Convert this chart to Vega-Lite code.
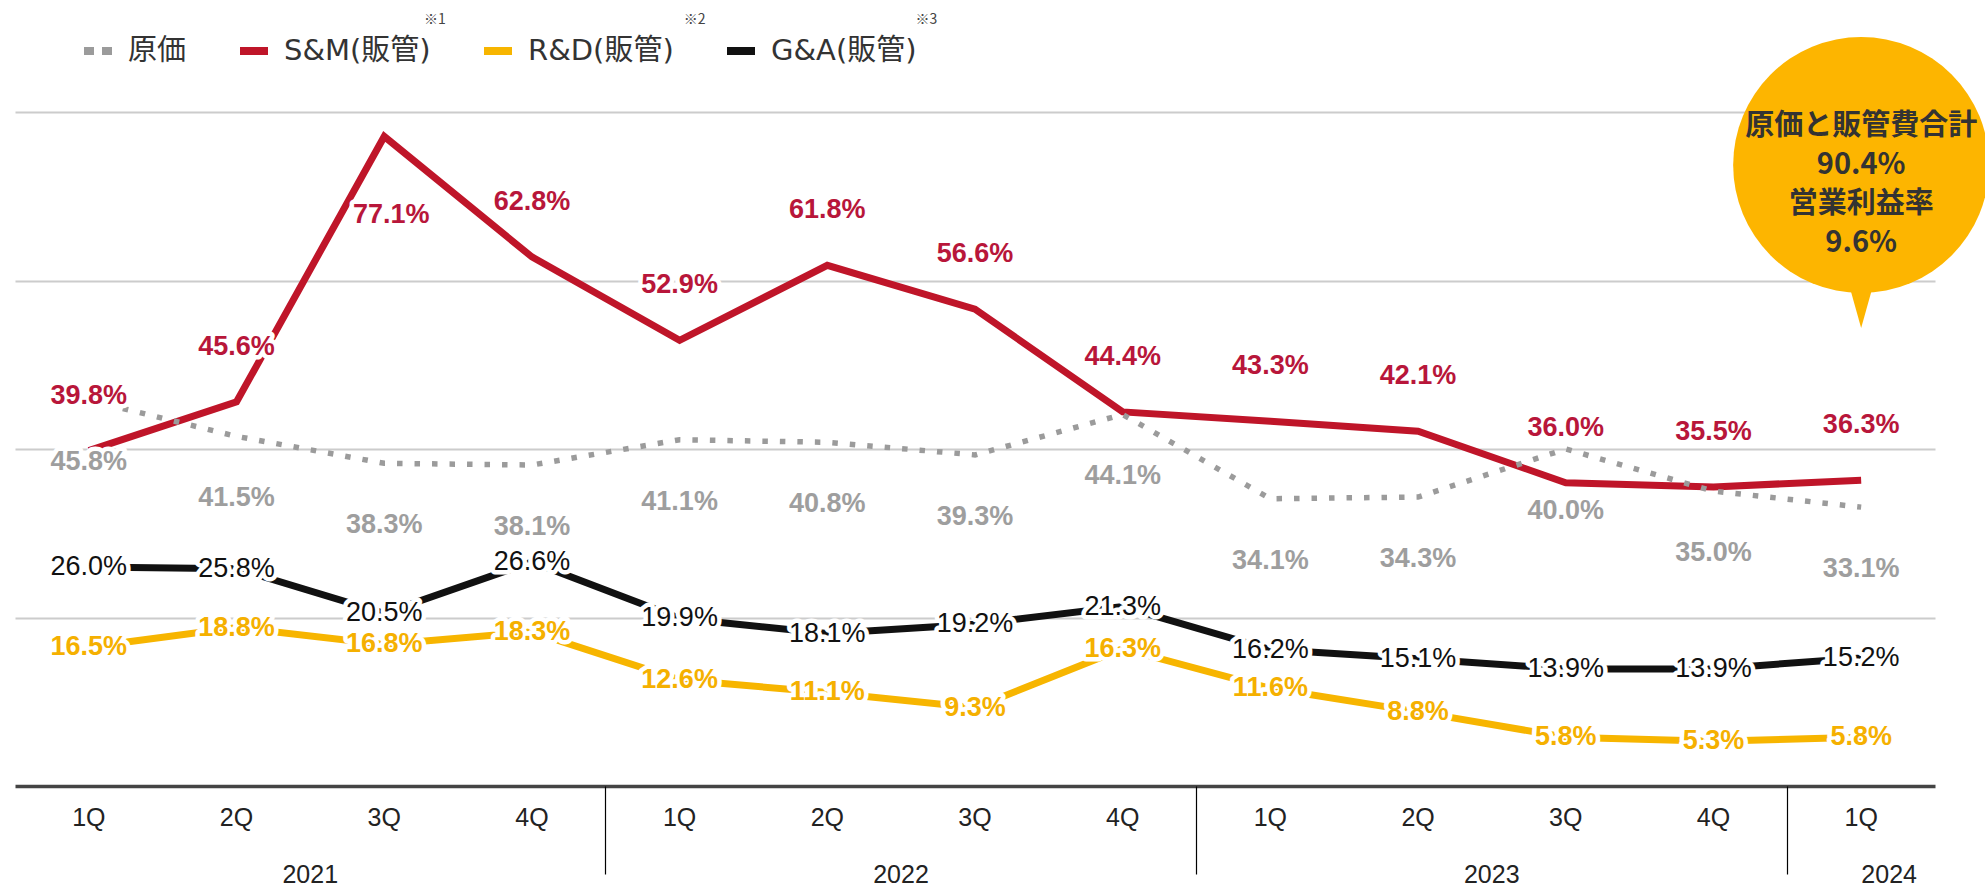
{
  "$schema": "https://vega.github.io/schema/vega-lite/v6.json",
  "width": 1920,
  "height": 674,
  "autosize": {"type": "none"},
  "padding": {"left": 15, "top": 112, "right": 50, "bottom": 108},
  "background": "white",
  "config": {"view": {"stroke": null}, "font": "Liberation Sans"},
  "title": {
    "text": "※1\u2003\u2003\u2003\u2003\u2003\u2003\u2003\u2003\u2003\u2003\u2003\u2003\u2003\u2003\u2003\u2003\u2003※2\u2003\u2003\u2003\u2003\u2003\u2003\u2003\u2003\u2003\u2003\u2003\u2003\u2003\u2003\u2003※3",
    "anchor": "start",
    "frame": "group",
    "dx": 409,
    "offset": 6,
    "font": "Noto Sans CJK JP",
    "fontSize": 14,
    "fontWeight": "normal",
    "color": "#444444"
  },
  "datasets": {
    "d": [
      {"q": "2021-1Q", "s": "原価", "v": 0.458},
      {"q": "2021-2Q", "s": "原価", "v": 0.415},
      {"q": "2021-3Q", "s": "原価", "v": 0.383},
      {"q": "2021-4Q", "s": "原価", "v": 0.381},
      {"q": "2022-1Q", "s": "原価", "v": 0.411},
      {"q": "2022-2Q", "s": "原価", "v": 0.408},
      {"q": "2022-3Q", "s": "原価", "v": 0.393},
      {"q": "2022-4Q", "s": "原価", "v": 0.441},
      {"q": "2023-1Q", "s": "原価", "v": 0.341},
      {"q": "2023-2Q", "s": "原価", "v": 0.343},
      {"q": "2023-3Q", "s": "原価", "v": 0.400},
      {"q": "2023-4Q", "s": "原価", "v": 0.350},
      {"q": "2024-1Q", "s": "原価", "v": 0.331},
      {"q": "2021-1Q", "s": "S&M(販管)", "v": 0.398},
      {"q": "2021-2Q", "s": "S&M(販管)", "v": 0.456},
      {"q": "2021-3Q", "s": "S&M(販管)", "v": 0.771},
      {"q": "2021-4Q", "s": "S&M(販管)", "v": 0.628},
      {"q": "2022-1Q", "s": "S&M(販管)", "v": 0.529},
      {"q": "2022-2Q", "s": "S&M(販管)", "v": 0.618},
      {"q": "2022-3Q", "s": "S&M(販管)", "v": 0.566},
      {"q": "2022-4Q", "s": "S&M(販管)", "v": 0.444},
      {"q": "2023-1Q", "s": "S&M(販管)", "v": 0.433},
      {"q": "2023-2Q", "s": "S&M(販管)", "v": 0.421},
      {"q": "2023-3Q", "s": "S&M(販管)", "v": 0.360},
      {"q": "2023-4Q", "s": "S&M(販管)", "v": 0.355},
      {"q": "2024-1Q", "s": "S&M(販管)", "v": 0.363},
      {"q": "2021-1Q", "s": "R&D(販管)", "v": 0.165},
      {"q": "2021-2Q", "s": "R&D(販管)", "v": 0.188},
      {"q": "2021-3Q", "s": "R&D(販管)", "v": 0.168},
      {"q": "2021-4Q", "s": "R&D(販管)", "v": 0.183},
      {"q": "2022-1Q", "s": "R&D(販管)", "v": 0.126},
      {"q": "2022-2Q", "s": "R&D(販管)", "v": 0.111},
      {"q": "2022-3Q", "s": "R&D(販管)", "v": 0.093},
      {"q": "2022-4Q", "s": "R&D(販管)", "v": 0.163},
      {"q": "2023-1Q", "s": "R&D(販管)", "v": 0.116},
      {"q": "2023-2Q", "s": "R&D(販管)", "v": 0.088},
      {"q": "2023-3Q", "s": "R&D(販管)", "v": 0.058},
      {"q": "2023-4Q", "s": "R&D(販管)", "v": 0.053},
      {"q": "2024-1Q", "s": "R&D(販管)", "v": 0.058},
      {"q": "2021-1Q", "s": "G&A(販管)", "v": 0.260},
      {"q": "2021-2Q", "s": "G&A(販管)", "v": 0.258},
      {"q": "2021-3Q", "s": "G&A(販管)", "v": 0.205},
      {"q": "2021-4Q", "s": "G&A(販管)", "v": 0.266},
      {"q": "2022-1Q", "s": "G&A(販管)", "v": 0.199},
      {"q": "2022-2Q", "s": "G&A(販管)", "v": 0.181},
      {"q": "2022-3Q", "s": "G&A(販管)", "v": 0.192},
      {"q": "2022-4Q", "s": "G&A(販管)", "v": 0.213},
      {"q": "2023-1Q", "s": "G&A(販管)", "v": 0.162},
      {"q": "2023-2Q", "s": "G&A(販管)", "v": 0.151},
      {"q": "2023-3Q", "s": "G&A(販管)", "v": 0.139},
      {"q": "2023-4Q", "s": "G&A(販管)", "v": 0.139},
      {"q": "2024-1Q", "s": "G&A(販管)", "v": 0.152}
    ]
  },
  "layer": [
    {
      "data": {"name": "d"},
      "encoding": {
        "x": {
          "field": "q",
          "type": "ordinal",
          "scale": {"type": "band", "paddingInner": 0, "paddingOuter": 0},
          "axis": {
            "orient": "bottom",
            "title": null,
            "labelExpr": "slice(datum.value, 5)",
            "labelAngle": 0,
            "labelFont": "Liberation Sans Narrow, Liberation Sans",
            "labelFontSize": 25,
            "labelColor": "#222222",
            "labelBaseline": "middle",
            "labelPadding": 31,
            "ticks": false,
            "tickSize": 0,
            "grid": false,
            "domainColor": "#444444",
            "domainWidth": 3.5
          }
        },
        "y": {
          "field": "v",
          "type": "quantitative",
          "scale": {"domain": [0, 0.8], "nice": false, "zero": true},
          "axis": {
            "values": [0.2, 0.4, 0.6, 0.8],
            "grid": true,
            "gridColor": "#cccccc",
            "gridWidth": 2,
            "domain": false,
            "ticks": false,
            "labels": false,
            "title": null
          }
        }
      },
      "layer": [
        {
          "transform": [{"filter": "datum.s !== '原価'"}],
          "mark": {"type": "line", "strokeWidth": 7, "strokeJoin": "miter", "strokeCap": "butt"},
          "encoding": {
            "color": {
              "field": "s",
              "type": "nominal",
              "scale": {
                "domain": ["原価", "S&M(販管)", "R&D(販管)", "G&A(販管)"],
                "range": ["#9b9b9b", "#BF1529", "#F7B500", "#111111"]
              },
              "legend": {
                "orient": "none",
                "legendX": 65,
                "legendY": -79,
                "direction": "horizontal",
                "title": null,
                "symbolType": "stroke",
                "symbolSize": 784,
                "symbolStrokeWidth": 8,
                "labelFont": "DejaVu Sans, Noto Sans CJK JP",
                "labelFontSize": 29,
                "labelColor": "#333333",
                "labelOffset": 12,
                "columnPadding": 37,
                "labelLimit": 400,
                "encode": {
                  "symbols": {
                    "update": {
                      "strokeDash": {"signal": "datum.value === '原価' ? [10, 8] : [1, 0]"}
                    }
                  }
                }
              }
            }
          }
        },
        {
          "transform": [{"filter": "datum.s === '原価'"}],
          "mark": {"type": "line", "strokeWidth": 5.5, "strokeDash": [5.5, 12], "strokeCap": "butt"},
          "encoding": {"color": {"field": "s", "type": "nominal"}}
        },
        {
          "transform": [{"filter": "datum.s === 'S&M(販管)' && datum.q !== '2021-3Q'"}],
          "mark": {"type": "text", "fontSize": 27, "fontWeight": "bold", "dy": -55, "fill": "white", "stroke": "white", "strokeWidth": 9, "strokeJoin": "round"},
          "encoding": {"text": {"field": "v", "format": ".1%"}}
        },
        {
          "transform": [{"filter": "datum.s === 'S&M(販管)' && datum.q === '2021-3Q'"}],
          "mark": {"type": "text", "fontSize": 27, "fontWeight": "bold", "dy": 79, "dx": 7, "fill": "white", "stroke": "white", "strokeWidth": 9, "strokeJoin": "round"},
          "encoding": {"text": {"field": "v", "format": ".1%"}}
        },
        {
          "transform": [{"filter": "datum.s === '原価'"}],
          "mark": {"type": "text", "fontSize": 27, "fontWeight": "bold", "dy": 62, "fill": "white", "stroke": "white", "strokeWidth": 9, "strokeJoin": "round"},
          "encoding": {"text": {"field": "v", "format": ".1%"}}
        },
        {
          "transform": [{"filter": "datum.s === 'G&A(販管)'"}],
          "mark": {"type": "text", "fontSize": 27, "fontWeight": "normal", "fill": "white", "stroke": "white", "strokeWidth": 9, "strokeJoin": "round"},
          "encoding": {"text": {"field": "v", "format": ".1%"}}
        },
        {
          "transform": [{"filter": "datum.s === 'R&D(販管)'"}],
          "mark": {"type": "text", "fontSize": 27, "fontWeight": "bold", "fill": "white", "stroke": "white", "strokeWidth": 9, "strokeJoin": "round"},
          "encoding": {"text": {"field": "v", "format": ".1%"}}
        },
        {
          "transform": [{"filter": "datum.s === 'S&M(販管)' && datum.q !== '2021-3Q'"}],
          "mark": {"type": "text", "fontSize": 27, "fontWeight": "bold", "dy": -55, "fill": "#B8163A"},
          "encoding": {"text": {"field": "v", "format": ".1%"}}
        },
        {
          "transform": [{"filter": "datum.s === 'S&M(販管)' && datum.q === '2021-3Q'"}],
          "mark": {"type": "text", "fontSize": 27, "fontWeight": "bold", "dy": 79, "dx": 7, "fill": "#B8163A"},
          "encoding": {"text": {"field": "v", "format": ".1%"}}
        },
        {
          "transform": [{"filter": "datum.s === '原価'"}],
          "mark": {"type": "text", "fontSize": 27, "fontWeight": "bold", "dy": 62, "fill": "#9e9e9e"},
          "encoding": {"text": {"field": "v", "format": ".1%"}}
        },
        {
          "transform": [{"filter": "datum.s === 'G&A(販管)'"}],
          "mark": {"type": "text", "fontSize": 27, "fontWeight": "normal", "fill": "#111111"},
          "encoding": {"text": {"field": "v", "format": ".1%"}}
        },
        {
          "transform": [{"filter": "datum.s === 'R&D(販管)'"}],
          "mark": {"type": "text", "fontSize": 27, "fontWeight": "bold", "fill": "#F5B000"},
          "encoding": {"text": {"field": "v", "format": ".1%"}}
        },
        {
          "transform": [{"filter": "datum.q === '2024-1Q' && datum.s === '原価'"}],
          "mark": {"type": "point", "shape": "circle", "filled": true, "size": 65536, "color": "#FDB500", "opacity": 1},
          "encoding": {
            "y": {"datum": 0.7371, "type": "quantitative"}
          }
        },
        {
          "transform": [{"filter": "datum.q === '2024-1Q' && datum.s === '原価'"}],
          "mark": {"type": "point", "shape": "M-0.56,-1L0.56,-1L0,1Z", "filled": true, "size": 1849, "color": "#FDB500", "opacity": 1},
          "encoding": {
            "y": {"datum": 0.5691, "type": "quantitative"}
          }
        },
        {
          "transform": [{"filter": "datum.q === '2024-1Q' && datum.s === '原価'"}],
          "mark": {"type": "text", "font": "Noto Sans CJK JP", "fontSize": 29, "fontWeight": "bold", "color": "#333333", "lineHeight": 39, "baseline": "middle", "align": "center"},
          "encoding": {
            "y": {"datum": 0.7828, "type": "quantitative"},
            "text": {"value": ["原価と販管費合計", "90.4%", "営業利益率", "9.6%"]}
          }
        }
      ]
    },
    {
      "data": {"name": "d"},
      "mark": {"type": "rule", "opacity": 0},
      "encoding": {
        "x": {
          "field": "q",
          "type": "ordinal",
          "scale": {"type": "band", "paddingInner": 0, "paddingOuter": 0},
          "axis": {
            "orient": "bottom",
            "title": null,
            "domain": false,
            "grid": false,
            "bandPosition": 0,
            "ticks": true,
            "tickSize": 88,
            "tickWidth": 1.2,
            "tickColor": "#000000",
            "tickOpacity": {"condition": {"test": "indexof(datum.value, '-1Q') > 0 && datum.value !== '2021-1Q'", "value": 1}, "value": 0},
            "labelExpr": "indexof(datum.value, '-3Q') > 0 || datum.value === '2024-1Q' ? slice(datum.value, 0, 4) : ''",
            "labelOffset": {"condition": {"test": "datum.value === '2024-1Q'", "value": 28}, "value": -74},
            "labelAngle": 0,
            "labelFont": "Liberation Sans Narrow, Liberation Sans",
            "labelFontSize": 25,
            "labelColor": "#222222",
            "labelBaseline": "middle",
            "labelPadding": 0
          }
        }
      }
    }
  ],
  "resolve": {"scale": {"x": "independent"}}
}
